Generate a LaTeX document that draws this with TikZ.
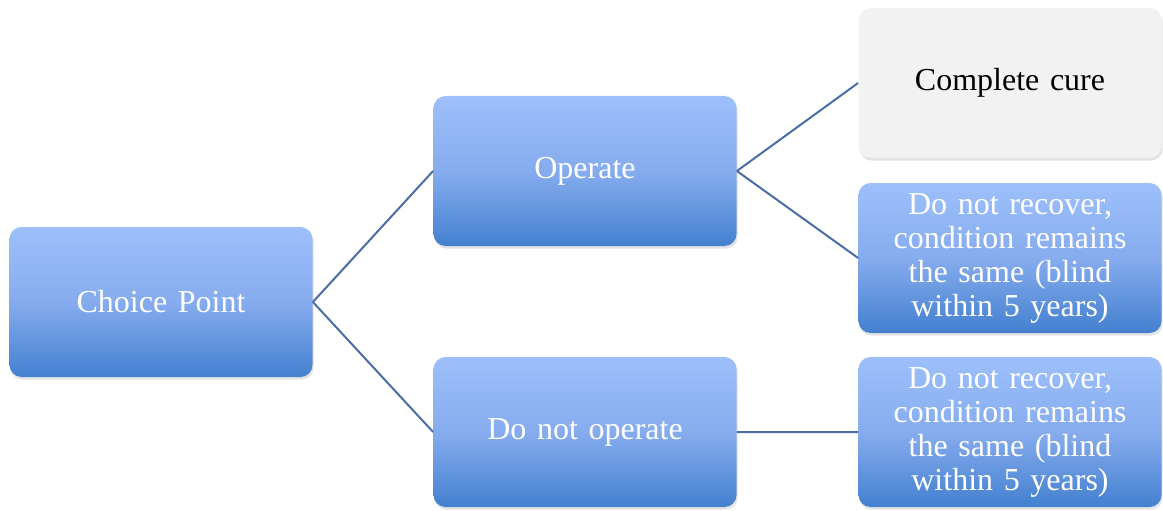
\documentclass[tikz,border=0pt]{standalone}
\usepackage{fontspec}
\setmainfont{Liberation Serif}
\usetikzlibrary{positioning, shadows}

\definecolor{boxtop}{HTML}{9DC0FB}
\definecolor{boxmid}{HTML}{86ACEE}
\definecolor{boxbot}{HTML}{4380CF}
\definecolor{linkblue}{HTML}{4A6DA5}
\definecolor{curegray}{HTML}{F2F2F2}

\begin{document}
\begin{tikzpicture}[on grid, node distance=212pt,
        box/.style={rectangle, rounded corners=6pt, minimum width=151.5pt, minimum height=75pt,
                text width=140pt, align=center, font=\fontsize{16}{17}\selectfont,
                drop shadow={opacity=0.22, shadow xshift=0.6pt, shadow yshift=-1.3pt}},
        choice/.style={box, top color=boxtop, bottom color=boxbot, middle color=boxmid, text=white},
        outcome/.style={box, fill=curegray, text=black},
        link/.style={draw=linkblue, line width=1pt}]
                \useasboundingbox (0,0) rectangle (581.5pt,255pt);
                \node[choice] (cp) at (80.5pt,104pt) {Choice Point};
                \node[choice] (op) [above right=65.5pt and 212pt of cp] {Operate};
                \node[choice] (nop) [below right=65pt and 212pt of cp] {Do not operate};
                \node[outcome] (cure) [above right=44pt and 212.5pt of op] {Complete cure};
                \node[choice] (same_op) [below right=43.5pt and 212.5pt of op] {Do not recover,\\condition remains\\the same (blind\\within 5 years)};
                \node[choice] (same_nop) [right=212.5pt of nop] {Do not recover,\\condition remains\\the same (blind\\within 5 years)};
                \path[link]
                (cp.east) -- (op.west)
                (cp.east) -- (nop.west)
                (op.east) -- (cure.west)
                (op.east) -- (same_op.west)
                (nop.east) -- (same_nop.west);
        \end{tikzpicture}
\end{document}
